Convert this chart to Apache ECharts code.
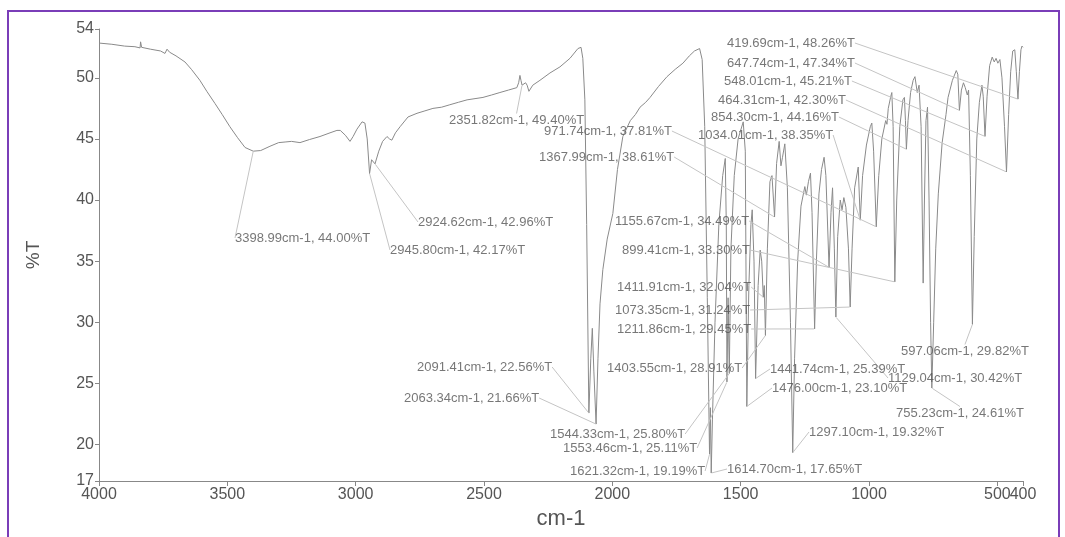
<!DOCTYPE html>
<html>
<head>
<meta charset="utf-8">
<title>IR spectrum</title>
<script src="https://cdn.jsdelivr.net/npm/echarts@6/dist/echarts.min.js"></script>
<style>
html, body { margin: 0; padding: 0; background: #fff; }
#frame { position: absolute; left: 7px; top: 10px; width: 1053px; height: 545px; border: 2px solid #7a3db8; box-sizing: border-box; }
#chart { position: absolute; left: 0; top: 0; width: 1065px; height: 537px; }
</style>
</head>
<body>
<div id="frame"></div>
<div id="chart"></div>
<script>
// spectrum trace, wavenumber (cm-1) and transmittance (%T)
var specWn = [4000, 3950, 3900, 3860, 3840, 3838, 3834, 3800, 3760, 3743, 3735, 3725, 3700, 3665, 3640, 3607, 3580, 3548, 3520, 3490, 3460, 3431, 3398.99, 3370, 3334, 3300, 3275, 3250, 3217, 3180, 3139, 3100, 3073, 3060, 3053, 3040, 3022, 3010, 2995, 2975, 2964, 2955, 2945.80, 2938, 2933, 2924.62, 2910, 2895, 2878, 2868, 2859, 2845, 2827, 2796, 2761, 2730, 2699, 2665, 2633, 2600, 2566, 2535, 2504, 2470, 2438, 2405, 2372, 2365, 2360, 2356, 2351.82, 2345, 2338, 2332, 2325, 2310, 2282, 2243, 2204, 2165, 2134, 2122, 2115, 2107, 2100, 2091.41, 2084, 2078, 2072, 2063.34, 2056, 2048, 2037, 2020, 1998, 1980, 1959, 1930, 1910, 1892, 1870, 1853, 1820, 1787, 1755, 1725, 1700, 1680, 1660, 1650, 1640, 1630, 1621.32, 1618, 1614.70, 1610, 1600, 1585, 1570, 1560, 1556, 1553.46, 1549, 1544.33, 1538, 1525, 1510, 1490, 1482, 1476.00, 1468, 1460, 1455, 1448, 1441.74, 1432, 1424, 1418, 1411.91, 1408, 1403.55, 1396, 1386, 1378, 1367.99, 1360, 1350, 1343, 1337, 1328, 1318, 1306, 1297.10, 1290, 1278, 1265, 1250, 1244, 1236, 1228, 1222, 1211.86, 1205, 1195, 1185, 1175, 1168, 1155.67, 1148, 1142, 1135, 1129.04, 1122, 1112, 1105, 1098, 1090, 1080, 1073.35, 1066, 1056, 1042, 1034.01, 1025, 1010, 995, 989, 982, 971.74, 962, 950, 935, 930, 925, 915, 911, 906, 899.41, 892, 880, 868, 862, 858, 854.30, 848, 838, 828, 821, 812, 805, 797, 789, 784, 778, 772, 766, 760, 755.23, 748, 740, 730, 715, 700, 692, 675, 660, 654, 647.74, 640, 632, 625, 617, 612, 605, 597.06, 590, 580, 570, 560, 555, 548.01, 540, 530, 520, 512, 505, 498, 490, 482, 472, 464.31, 456, 448, 440, 432, 426, 419.69, 414, 408, 404, 400];
var specT = [52.85, 52.75, 52.6, 52.55, 52.45, 52.95, 52.5, 52.35, 52.2, 52.0, 52.35, 52.1, 51.8, 51.3, 50.7, 49.8, 48.9, 47.9, 47.0, 46.0, 45.1, 44.3, 44.00, 44.05, 44.4, 44.7, 44.75, 44.8, 44.7, 44.95, 45.2, 45.5, 45.7, 45.7, 45.6, 45.3, 44.8, 45.2, 45.8, 46.4, 46.3, 45.0, 42.17, 43.3, 43.4, 42.96, 44.0, 44.8, 45.2, 45.0, 44.9, 45.5, 46.0, 46.8, 47.1, 47.3, 47.5, 47.6, 47.8, 48.0, 48.2, 48.3, 48.4, 48.6, 48.8, 49.0, 49.2, 49.6, 50.2, 49.8, 49.40, 49.3, 49.6, 49.4, 48.9, 49.4, 49.8, 50.4, 50.9, 51.6, 52.4, 52.5, 51.6, 48.2, 38, 22.56, 27, 29.5, 26, 21.66, 27, 31.5, 34.3, 36.8, 38.9, 42.5, 45.2, 46.5, 47.0, 47.6, 48.0, 48.4, 49.3, 50.1, 50.7, 51.2, 51.8, 52.2, 52.4, 51.5, 46, 32, 19.19, 23, 17.65, 22, 30, 38, 42, 43.4, 38, 25.11, 32, 25.80, 36, 42, 45, 46.4, 44, 23.10, 33, 38, 39.2, 35, 25.39, 33, 35.9, 35, 32.04, 33, 28.91, 36, 41.5, 42, 38.61, 43, 44.8, 42.8, 43.5, 44.6, 41, 30, 19.32, 27, 35, 39.5, 41.1, 40.4, 41.5, 42.2, 39, 29.45, 35, 40.5, 42.5, 43.5, 42, 34.49, 39, 41, 36, 30.42, 37, 40, 39.2, 40.2, 39.4, 36, 31.24, 36, 41, 42.7, 38.35, 42, 44.5, 46, 46.3, 44, 37.81, 42, 45, 46.5, 46.2, 47.5, 48.5, 48.8, 46, 33.30, 40, 46, 48.2, 48.4, 46.5, 44.16, 46.5, 48.8, 49.8, 50.1, 48.8, 49.4, 46, 33.2, 40, 46.5, 47.6, 40, 30, 24.61, 30, 36, 40.5, 44.7, 47.0, 48.4, 49.8, 50.6, 50.3, 47.34, 49.0, 49.6, 49.2, 48.6, 49.0, 42, 29.82, 37, 45, 48, 49.4, 48.5, 45.21, 48.5, 51, 51.7, 51.3, 51.6, 51.2, 51.5, 50, 46, 42.30, 47, 50.5, 52.2, 52.3, 50.5, 48.26, 50.5, 52.3, 52.6, 52.5];

// picked peaks shown with labels
var peakWn = [3398.99, 2945.80, 2924.62, 2351.82, 2091.41, 2063.34, 1621.32, 1614.70, 1553.46, 1544.33, 1476.00, 1441.74, 1411.91, 1403.55, 1367.99, 1297.10, 1211.86, 1155.67, 1129.04, 1073.35, 1034.01, 971.74, 899.41, 854.30, 755.23, 647.74, 597.06, 548.01, 464.31, 419.69];
var peakT = [44.00, 42.17, 42.96, 49.40, 22.56, 21.66, 19.19, 17.65, 25.11, 25.80, 23.10, 25.39, 32.04, 28.91, 38.61, 19.32, 29.45, 34.49, 30.42, 31.24, 38.35, 37.81, 33.30, 44.16, 24.61, 47.34, 29.82, 45.21, 42.30, 48.26];

// tick labels (500 sits on its own axis so it is not dropped next to 400)
var xTicks = [4000, 3500, 3000, 2500, 2000, 1500, 1000, 500, 400];
var xLabelsMain = [4000, 3500, 3000, 2500, 2000, 1500, 1000, 400];
var xLabelsExtra = [500];
var yTicks = [17, 20, 25, 30, 35, 40, 45, 50, 54];

// where each peak label sits (left edge, middle), in pixels
var labelLeft = [235, 390, 418, 449, 417, 404, 570, 727, 563, 550, 772, 770, 617, 607, 539, 809, 617, 615, 888, 615, 698, 544, 622, 711, 896, 727, 901, 724, 718, 727];
var labelMid = [238, 250, 222, 120, 367, 398, 471, 469, 448, 434, 388, 369, 287, 368, 157, 432, 329, 221, 378, 310, 135, 131, 250, 117, 413, 63, 351, 81, 100, 43];

var myChart = echarts.init(document.getElementById('chart'));
var option = {
    animation: false,
    textStyle: { fontFamily: 'Liberation Sans, Arial, sans-serif' },
    grid: { left: 99, right: 42, top: 29, bottom: 56 },
    xAxis: [
        {
            type: 'value',
            inverse: true,
            min: 400,
            max: 4000,
            name: 'cm-1',
            nameLocation: 'middle',
            nameGap: 25,
            nameTextStyle: { fontSize: 22, color: '#555' },
            splitLine: { show: false },
            axisLine: { lineStyle: { color: '#888' } },
            axisTick: { show: true, length: 5, customValues: xTicks, lineStyle: { color: '#888' } },
            axisLabel: {
                customValues: xLabelsMain,
                showMinLabel: true,
                showMaxLabel: true,
                formatter: function (v) { return String(v); },
                fontSize: 16,
                color: '#555',
                margin: 6
            }
        },
        {
            type: 'value',
            inverse: true,
            position: 'bottom',
            min: 400,
            max: 4000,
            splitLine: { show: false },
            axisLine: { show: false },
            axisTick: { show: false },
            axisLabel: {
                customValues: xLabelsExtra,
                formatter: function (v) { return String(v); },
                fontSize: 16,
                color: '#555',
                margin: 6
            }
        }
    ],
    yAxis: {
        type: 'value',
        min: 17,
        max: 54,
        name: '%T',
        nameLocation: 'middle',
        nameGap: 56,
        nameTextStyle: { fontSize: 19, color: '#555' },
        splitLine: { show: false },
        axisLine: { show: true, lineStyle: { color: '#888' } },
        axisTick: { show: true, length: 4, customValues: yTicks, lineStyle: { color: '#888' } },
        axisLabel: { customValues: yTicks, showMinLabel: true, showMaxLabel: true, fontSize: 16, color: '#555', margin: 5 }
    },
    series: [
        {
            type: 'line',
            data: specWn.map(function (w, i) { return [w, specT[i]]; }),
            showSymbol: false,
            lineStyle: { color: '#8a8a8a', width: 1 },
            z: 2
        },
        {
            type: 'scatter',
            data: peakWn.map(function (w, i) { return [w, peakT[i]]; }),
            symbolSize: 1,
            itemStyle: { color: 'rgba(0,0,0,0)' },
            label: {
                show: true,
                formatter: function (p) {
                    return p.value[0].toFixed(2) + 'cm-1, ' + p.value[1].toFixed(2) + '%T';
                },
                fontSize: 13,
                color: '#555'
            },
            labelLine: { show: true, lineStyle: { color: '#c4c4c4', width: 1 } },
            labelLayout: function (p) {
                return { x: labelLeft[p.dataIndex], y: labelMid[p.dataIndex], align: 'left', verticalAlign: 'middle' };
            },
            z: 3
        }
    ]
};
myChart.setOption(option);
</script>
</body>
</html>
